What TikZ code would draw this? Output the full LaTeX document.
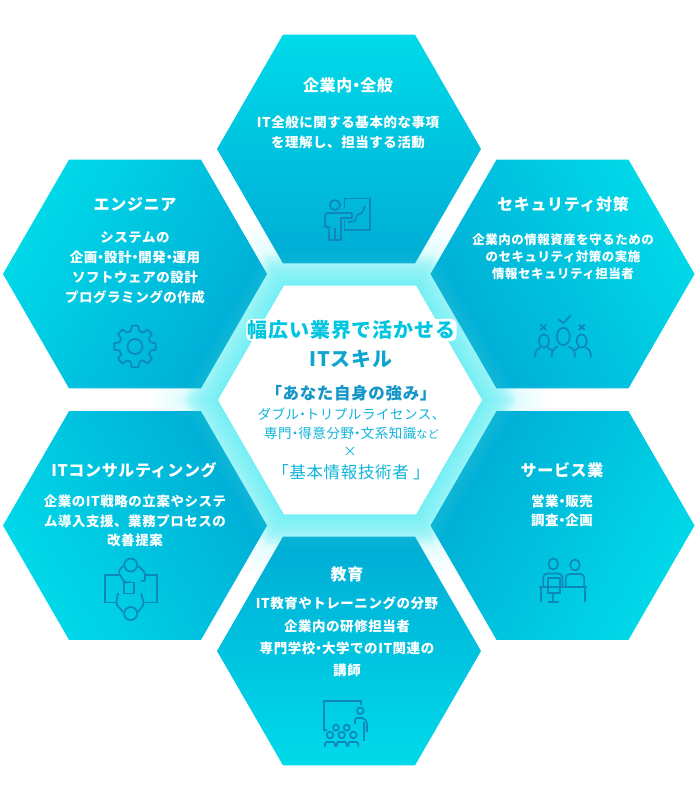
\documentclass[tikz,border=0pt]{standalone}
\usepackage{fontspec}
\setmainfont{Noto Sans CJK JP}[LetterSpace=4]
\newfontfamily\dotfont{Noto Sans CJK JP}[RawFeature=+palt]
\usepackage{xcolor}
\usetikzlibrary{shapes.geometric, positioning}

\definecolor{hexlight}{HTML}{00DAE9}
\definecolor{hexdark}{HTML}{00ACD5}
\definecolor{glowcyan}{HTML}{58ECF2}
\definecolor{iconblue}{HTML}{0E88BC}
\definecolor{hubcyan}{HTML}{00C6E0}
\definecolor{hubsky}{HTML}{10B4DA}
\definecolor{hubblue}{HTML}{1497C8}

\newcommand{\dt}{{\dotfont ・}}

\tikzset{
    x=1pt, y=-1pt,
    hexshape/.style={regular polygon, regular polygon sides=6, inner sep=0pt, minimum size=#1},
    hexcell/.style={hexshape=264pt, top color=hexlight, bottom color=hexdark, shading angle=#1},
    glowfar/.style={hexshape=#1, fill=glowcyan, fill opacity=0.012},
    glownear/.style={hexshape=#1, fill=glowcyan, fill opacity=0.07},
    glowhigh/.style={hexshape=#1, fill=glowcyan, fill opacity=0.03},
    hexhead/.style={text=white, font=\fontsize{16}{16}\selectfont\bfseries},
    hexbody/.style args={#1/#2}{text=white, align=center, font=\fontsize{#1}{#2}\selectfont\bfseries},
    icon/.style={draw=iconblue, line width=1.7pt, fill=none}
}

\begin{document}
\begin{tikzpicture}
    \useasboundingbox (0,0) rectangle (700,800);

    \node (hub) [hexshape=264pt] at (350,400) {};
    \foreach \r in {4,6,...,60}
        \node (glowa\r) [glowfar=264pt+2.31pt*\r] at (hub) {};
    \foreach \r in {2,4,...,30}
        \node (glowc\r) [glownear=264pt+2.31pt*\r] at (hub) {};

    \node (top) [hexcell=0] at (349,149) {};
    \node (ul) [hexcell=60] at (135,274) {};
    \node (ur) [hexcell=300] at (562.5,274) {};
    \node (ll) [hexcell=120] at (135,525.5) {};
    \node (lr) [hexcell=240] at (562.5,525.5) {};
    \node (bot) [hexcell=180] at (349,651) {};

    \foreach \r in {22,24,...,34}
        \node (glowb\r) [glowhigh=264pt+2.31pt*\r] at (hub) {};
    \node (hubface) [hexshape=264pt, fill=white] at (hub) {};

    \node (topHead) [hexhead] at (348,85) {企業内\dt 全般};
    \node (topBody) [hexbody=13.5/20] at (348,132) {IT全般に関する基本的な事項\\を理解し、担当する活動};

    \node (ulHead) [hexhead] at (135,204) {エンジニア};
    \node (ulBody) [hexbody=13.5/20] at (135,268) {システムの\\企画\dt 設計\dt 開発\dt 運用\\ソフトウェアの設計\\プログラミングの作成};

    \node (urHead) [hexhead] at (563,204) {セキュリティ対策};
    \node (urBody) [hexbody=12.5/17] at (563,257) {企業内の情報資産を守るための\\のセキュリティ対策の実施\\情報セキュリティ担当者};

    \node (llHead) [hexhead] at (134,470) {ITコンサルティンング};
    \node (llBody) [hexbody=13.5/19.5] at (135,521) {企業のIT戦略の立案やシステ\\ム導入支援、業務プロセスの\\改善提案};

    \node (lrHead) [hexhead] at (562,470) {サービス業};
    \node (lrBody) [hexbody=13.5/19.5] at (562,511) {営業\dt 販売\\調査\dt 企画};

    \node (botHead) [hexhead] at (347,574) {教育};
    \node (botBody) [hexbody=13.5/22.3] at (347,637) {IT教育やトレーニングの分野\\企業内の研修担当者\\専門学校\dt 大学でのIT関連の\\講師};

    \node (hubTitle) [fill=white, rounded corners=5pt, inner sep=1.5pt, text=hubcyan, font=\fontsize{20}{20}\selectfont\bfseries] at (351.5,330) {幅広い業界で活かせる};
    \node (hubSkill) [text=hubblue!70!hubcyan, font=\fontsize{20}{20}\selectfont\bfseries] at (351,359) {ITスキル};
    \node (hubStrong) [text=hubblue, font=\fontsize{16.5}{16.5}\selectfont\bfseries] at (351,393) {「あなた自身の強み」};
    \node (hubLine) [text=hubsky, font=\fontsize{13.5}{13.5}\selectfont] at (351.5,414) {ダブル\dt トリプルライセンス、};
    \node (hubField) [text=hubsky, font=\fontsize{13.5}{13.5}\selectfont] at (351.5,433) {専門\dt 得意分野\dt 文系知識{\fontsize{11}{11}\selectfont など}};
    \node (hubTimes) [text=hubsky, font=\fontsize{13.5}{13.5}\selectfont] at (350,452) {×};
    \node (hubBase) [text=hubsky, font=\fontsize{16.5}{16.5}\selectfont] at (351,472) {「基本情報技術者 」};

    % presenter
    \draw [icon] (335,205) circle [radius=5];
    \draw [icon] (344.5,208) -- (344.5,198.5) -- (370,198.5) -- (370,230) -- (344.5,230) -- (344.5,220);
    \draw [icon] (348,222) -- (355,221) -- (357,215) -- (362,213) -- (365,206);
    \draw [icon, rounded corners=3pt] (352,213) -- (325,213) -- (325,227) -- (329,227) -- (329,240);
    \draw [icon] (352,213) -- (352,218) -- (341,218) -- (341,240);
    \draw [icon] (335,228) -- (335,240);
    \draw [icon] (329,240) -- (341,240);

    % gear
    \begin{scope}[shift={(135,346.5)}]
        \draw [icon] (0,0) circle [radius=7.5];
        \foreach \a in {0,45,...,315}
            \draw [icon, line join=round] (\a-15:16) -- (\a-9:21) -- (\a+9:21) -- (\a+15:16) -- (\a+30:16);
    \end{scope}

    % team
    \draw [icon] (563.3,336.5) ellipse [x radius=6.5, y radius=8.7];
    \draw [icon] (544,341) ellipse [x radius=5, y radius=6.5];
    \draw [icon] (581.7,341) ellipse [x radius=5, y radius=6.5];
    \draw [icon] (551.7,357.5) .. controls (551.7,351) and (553,348) .. (558,346.5);
    \draw [icon] (575,357.5) .. controls (575,351) and (573.5,348) .. (568.5,346.5);
    \draw [icon] (535,357.5) .. controls (535,351) and (537,349) .. (540.5,347.5);
    \draw [icon] (547.5,347.5) -- (552,350.5);
    \draw [icon] (591,357.5) .. controls (591,351) and (589,349) .. (585.5,347.5);
    \draw [icon] (578.5,347.5) -- (574.5,350.5);
    \draw [icon] (558.3,319) -- (563.3,323.3) -- (570.7,315);
    \draw [icon] (540.3,324.5) -- (546.3,330) (546.3,324.5) -- (540.3,330);
    \draw [icon] (578.7,324.5) -- (584.7,330) (584.7,324.5) -- (578.7,330);

    % meeting
    \draw [icon] (121,575) -- (105,575) -- (105,602.5) -- (117,602.5);
    \draw [icon] (146,575) -- (156.7,575) -- (156.7,602.5) -- (143,602.5);
    \draw [icon] (130.7,565) circle [radius=6.5];
    \draw [icon] (130.7,613.5) circle [radius=6.5];
    \draw [icon] (124.3,582.5) rectangle (134.3,593.5);
    \draw [icon, rounded corners=2pt] (123,566) -- (118,572) -- (125,583) -- (130,582);
    \draw [icon, rounded corners=2pt] (138,566) -- (145,572) -- (145,581) -- (141,581);
    \draw [icon, rounded corners=2pt] (118,593) -- (116,604) -- (123,612);
    \draw [icon, rounded corners=2pt] (141,593) -- (144,604) -- (138,612);

    % desk
    \draw [icon] (553.3,564) ellipse [x radius=4.8, y radius=5.5];
    \draw [icon] (575,565) ellipse [x radius=4.8, y radius=5.5];
    \draw [icon] (539,586.7) -- (586.7,586.7);
    \draw [icon] (540.7,586.7) -- (540.7,602.3);
    \draw [icon] (585,586.7) -- (585,602.3);
    \draw [icon] (547.7,593.3) -- (547.7,578.3) -- (560,578.3) -- (560,593.3) -- cycle;
    \draw [icon] (553.3,593.3) -- (553.3,601.7);
    \draw [icon] (547.7,601.7) -- (559,601.7);
    \draw [icon, rounded corners=4pt] (543.3,586.7) -- (543.3,573.5) -- (562.5,573.5) -- (562.5,586.7);
    \draw [icon, rounded corners=4pt] (565.7,586.7) -- (565.7,574) -- (584.3,574) -- (584.3,586.7);

    % classroom
    \draw [icon] (361,704.5) -- (361,701) -- (324,701) -- (324,730) -- (327,730);
    \draw [icon] (360.3,710.7) circle [radius=3.3];
    \draw [icon, rounded corners=2pt] (355,724) -- (355,718) -- (364,718) -- (367,722) -- (367,732);
    \draw [icon] (364,722) -- (364,741);
    \foreach \hx in {336,346.7}
        \draw [icon] (\hx,727.7) circle [radius=3];
    \foreach \hx in {330,341.7,353.3}{
        \draw [icon] (\hx,735) circle [radius=3.3];
        \draw [icon, rounded corners=2pt] (\hx-5,746.5) -- (\hx-5,742) -- (\hx+5,742) -- (\hx+5,746.5);
    }
\end{tikzpicture}
\end{document}
